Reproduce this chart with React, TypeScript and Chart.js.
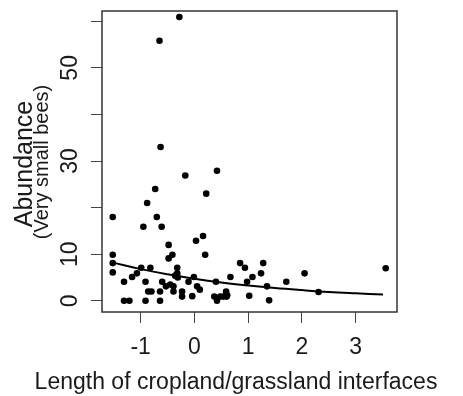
import React, { useEffect, useRef } from "react";
import { Chart, registerables } from "chart.js";

Chart.register(...registerables);

const pointX = [
  -1.52, -1.52, -1.52, -1.52, -1.31, -1.31, -1.21, -1.16, -1.07, -0.99,
  -0.82, -0.91, -0.91, -0.86, -0.8, -0.64, -0.64, -0.6, -0.95, -0.88,
  -0.73, -0.7, -0.61, -0.28, -0.65, -0.63, -0.48, -0.48, -0.41, -0.53,
  -0.45, -0.32, -0.32, -0.36, -0.39, -0.23, -0.23, -0.39, -0.31, -0.17,
  -0.11, -0.01, 0.05, 0.1, -0.04, 0.03, 0.16, 0.2, 0.22, 0.42,
  0.4, 0.37, 0.42, 0.48, 0.54, 0.59, 0.6, 0.67, 0.61, 0.85,
  0.94, 1.28, 1.24, 1.08, 0.98, 1.02, 1.35, 1.39, 1.71, 2.05,
  2.31, 3.56,
];
const pointY = [
  18.0, 9.9, 8.1, 6.1, 4.1, 0, 0, 5.1, 5.9, 7.1,
  7.1, 4.1, 0, 2.0, 2.0, 2.0, 0, 4.1, 15.9, 21.0,
  24.0, 18.0, 15.9, 60.9, 55.8, 33.0, 12.0, 9.1, 9.9, 3.1,
  3.5, 7.1, 5.9, 5.4, 2.0, 2.0, 0.9, 3.1, 5.0, 26.9,
  4.1, 5.1, 3.1, 2.4, 1.0, 12.9, 13.9, 9.9, 23.0, 27.9,
  4.1, 0.9, 0.0, 0.9, 0.9, 2.0, 0.9, 5.1, 1.2, 8.1,
  7.1, 8.1, 5.9, 5.1, 4.1, 1.1, 3.1, 0.1, 4.1, 5.9,
  1.9, 7.0,
];

const curveX = [-1.52, -1.0, -0.5, 0, 0.5, 1.0, 1.5, 2.0, 2.5, 3.0, 3.51];
const curveY = [8.2, 6.8, 5.7, 4.75, 3.95, 3.3, 2.75, 2.3, 1.9, 1.6, 1.33];

const xTicks = [-1, 0, 1, 2, 3];
const yTicks = [0, 10, 20, 30, 40, 50, 60];
const yTickLabels = ["0", "10", "", "30", "", "50", ""];

const xTitle = "Length of cropland/grassland interfaces";
const yTitle = "Abundance";
const ySubTitle = "(Very small bees)";

const FONT = '"Liberation Sans", Arial, sans-serif';

export default function App() {
  const ref = useRef<HTMLCanvasElement | null>(null);

  useEffect(() => {
    const canvas = ref.current;
    if (!canvas) return;

    const decor = {
      id: "decor",
      afterDraw(chart: any) {
        const ctx = chart.ctx;
        const area = chart.chartArea;
        const ys = chart.scales.y;
        ctx.save();
        ctx.strokeStyle = "#333";
        ctx.lineWidth = 1.5;
        ctx.strokeRect(area.left, area.top, area.right - area.left, area.bottom - area.top);
        ctx.fillStyle = "#1a1a1a";
        ctx.font = `23px ${FONT}`;
        ctx.textAlign = "center";
        ctx.textBaseline = "alphabetic";
        yTicks.forEach((v, i) => {
          const lab = yTickLabels[i];
          if (!lab) return;
          const py = ys.getPixelForValue(v);
          ctx.save();
          ctx.translate(76.5, py);
          ctx.rotate(-Math.PI / 2);
          ctx.fillText(lab, 0, 0);
          ctx.restore();
        });
        ctx.save();
        ctx.translate(32, 164);
        ctx.rotate(-Math.PI / 2);
        ctx.font = `25px ${FONT}`;
        ctx.fillText(yTitle, 0, 0);
        ctx.restore();
        ctx.save();
        ctx.translate(47.5, 162);
        ctx.rotate(-Math.PI / 2);
        ctx.font = `20px ${FONT}`;
        ctx.fillText(ySubTitle, 0, 0);
        ctx.restore();
        ctx.font = `23px ${FONT}`;
        ctx.fillText(xTitle, 236, 389);
        ctx.restore();
      },
    };

    const chart = new Chart(canvas, {
      type: "scatter",
      data: {
        datasets: [
          {
            data: pointX.map((x, i) => ({ x, y: pointY[i] })),
            backgroundColor: "#000",
            borderColor: "#000",
            pointRadius: 3.3,
            pointBorderWidth: 0,
            showLine: false,
          },
          {
            data: curveX.map((x, i) => ({ x, y: curveY[i] })),
            borderColor: "#000",
            borderWidth: 2,
            pointRadius: 0,
            showLine: true,
            tension: 0.4,
            fill: false,
          },
        ],
      },
      options: {
        responsive: false,
        animation: false,
        devicePixelRatio: 1,
        layout: { padding: { left: 0, right: 66, top: 11, bottom: 0 } },
        plugins: { legend: { display: false }, tooltip: { enabled: false } },
        scales: {
          x: {
            type: "linear",
            min: -1.72,
            max: 3.77,
            afterBuildTicks: (s: any) => {
              s.ticks = xTicks.map((v) => ({ value: v }));
            },
            afterFit: (s: any) => {
              s.height = 84;
            },
            border: { display: false },
            grid: {
              drawOnChartArea: false,
              drawTicks: true,
              tickLength: 11,
              color: "#444",
              lineWidth: 1,
            },
            ticks: {
              color: "#1a1a1a",
              font: { family: FONT, size: 23 },
              padding: 11,
              maxRotation: 0,
              callback: (v: any) => String(v),
            },
          },
          y: {
            type: "linear",
            min: -2.4,
            max: 62.2,
            afterBuildTicks: (s: any) => {
              s.ticks = yTicks.map((v) => ({ value: v }));
            },
            afterFit: (s: any) => {
              s.width = 102;
            },
            border: { display: false },
            grid: {
              drawOnChartArea: false,
              drawTicks: true,
              tickLength: 11,
              color: "#444",
              lineWidth: 1,
            },
            ticks: { display: false },
          },
        },
      },
      plugins: [decor],
    } as any);

    return () => chart.destroy();
  }, []);

  return (
    <div style={{ position: "absolute", left: 0, top: 0, width: 463, height: 396, background: "#fff" }}>
      <canvas ref={ref} width={463} height={396} style={{ width: 463, height: 396 }} />
    </div>
  );
}
